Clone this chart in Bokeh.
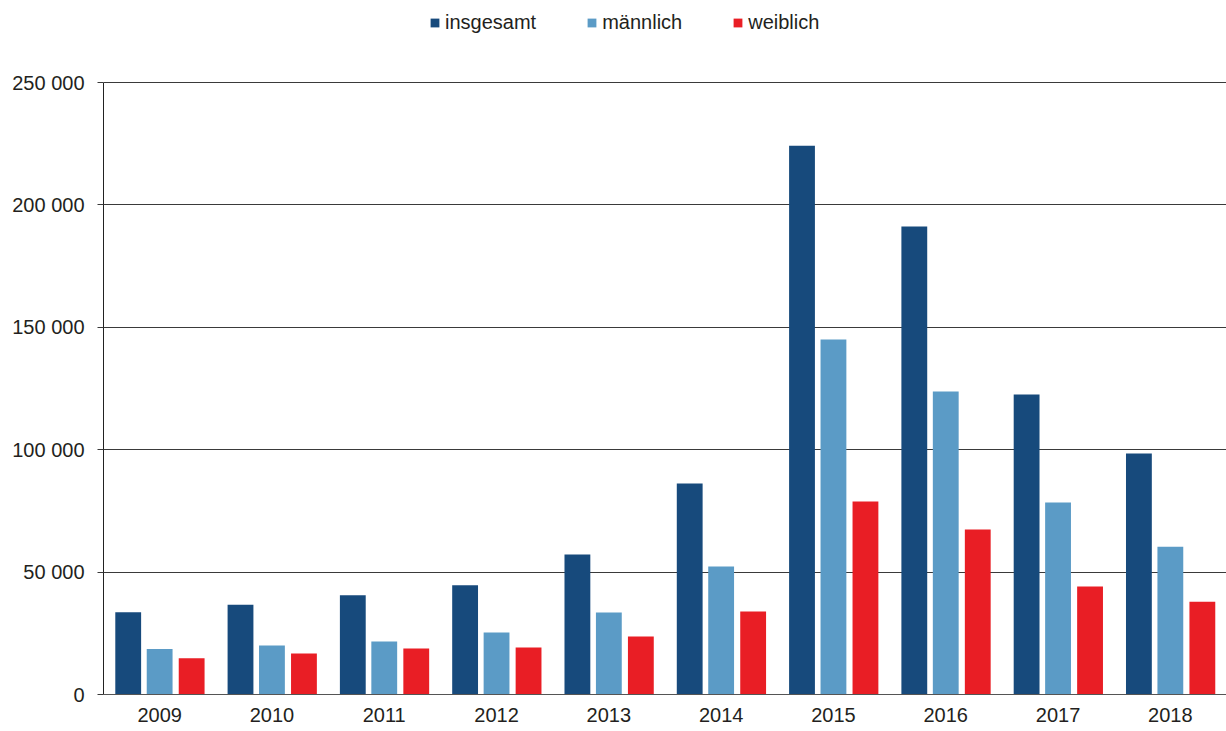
from bokeh.plotting import figure
from bokeh.models import FactorRange, Range1d, FixedTicker, Legend, LegendItem, ColumnDataSource
from bokeh.transform import dodge
from bokeh.embed import file_html
from bokeh.resources import INLINE

years = ["2009", "2010", "2011", "2012", "2013", "2014", "2015", "2016", "2017", "2018"]
insgesamt = [33600, 36700, 40500, 44600, 57200, 86200, 224200, 191200, 122500, 98400]
maennlich = [18600, 20000, 21700, 25300, 33500, 52300, 145000, 123800, 78400, 60400]
weiblich = [14800, 16700, 18800, 19200, 23700, 33900, 78800, 67400, 44100, 37900]
series_names = ["insgesamt", "männlich", "weiblich"]
y_ticks = [0, 50000, 100000, 150000, 200000, 250000]
y_tick_labels = ["0", "50 000", "100 000", "150 000", "200 000", "250 000"]

colors = ["#174a7c", "#5b9bc6", "#e91e25"]
FONT = "Liberation Sans"
TXT = "#231f20"

FRAME_H = 694          # frame spans the legend strip too
AXIS_TOP_PX = 82       # pixel row of the 250 000 gridline
y_max = y_ticks[-1]
y_end = y_max * FRAME_H / (FRAME_H - AXIS_TOP_PX)

src = ColumnDataSource(dict(years=years, ins=insgesamt, m=maennlich, w=weiblich))

p = figure(x_range=FactorRange(*years, range_padding=0), y_range=Range1d(0, y_end),
           frame_width=1123, frame_height=FRAME_H, output_backend="svg", toolbar_location=None,
           min_border_left=103, min_border_right=0, min_border_top=0, min_border_bottom=37)
p.outline_line_color = None
p.background_fill_color = "white"

r1 = p.vbar(x=dodge("years", -0.28, range=p.x_range), top="ins", width=0.23, source=src,
            fill_color=colors[0], line_color=None)
r2 = p.vbar(x=dodge("years", 0.0, range=p.x_range), top="m", width=0.23, source=src,
            fill_color=colors[1], line_color=None)
r3 = p.vbar(x=dodge("years", 0.285, range=p.x_range), top="w", width=0.23, source=src,
            fill_color=colors[2], line_color=None)

p.xgrid.grid_line_color = None
p.ygrid.grid_line_color = "#3a3a3a"
p.ygrid.grid_line_width = 1
p.ygrid.ticker = FixedTicker(ticks=y_ticks)

p.yaxis.ticker = FixedTicker(ticks=y_ticks)
p.yaxis.bounds = (0, y_max)
p.yaxis.major_label_overrides = {t: l for t, l in zip(y_ticks, y_tick_labels)}
p.yaxis.minor_tick_line_color = None
p.yaxis.major_tick_out = 6
p.yaxis.major_tick_in = 0
p.yaxis.major_tick_line_color = "#3a3a3a"
p.yaxis.axis_line_color = "#222222"
p.yaxis.major_label_standoff = 13

p.xaxis.major_tick_line_color = None
p.xaxis.major_tick_out = 0
p.xaxis.major_tick_in = 0
p.xaxis.axis_line_color = "#555555"
p.xaxis.major_label_standoff = 13

for ax in (p.xaxis, p.yaxis):
    ax.major_label_text_font = FONT
    ax.major_label_text_font_size = "20px"
    ax.major_label_text_color = TXT

legend = Legend(items=[LegendItem(label=series_names[0], renderers=[r1]),
                       LegendItem(label=series_names[1], renderers=[r2]),
                       LegendItem(label=series_names[2], renderers=[r3])],
                orientation="horizontal", location=(326, 660),
                glyph_width=11, glyph_height=11, label_standoff=5, spacing=50,
                padding=0, margin=0, border_line_color=None, background_fill_alpha=0,
                label_text_font=FONT, label_text_font_size="20px", label_text_color=TXT)
p.add_layout(legend, "center")

open("out.html", "w").write(file_html(p, INLINE))
